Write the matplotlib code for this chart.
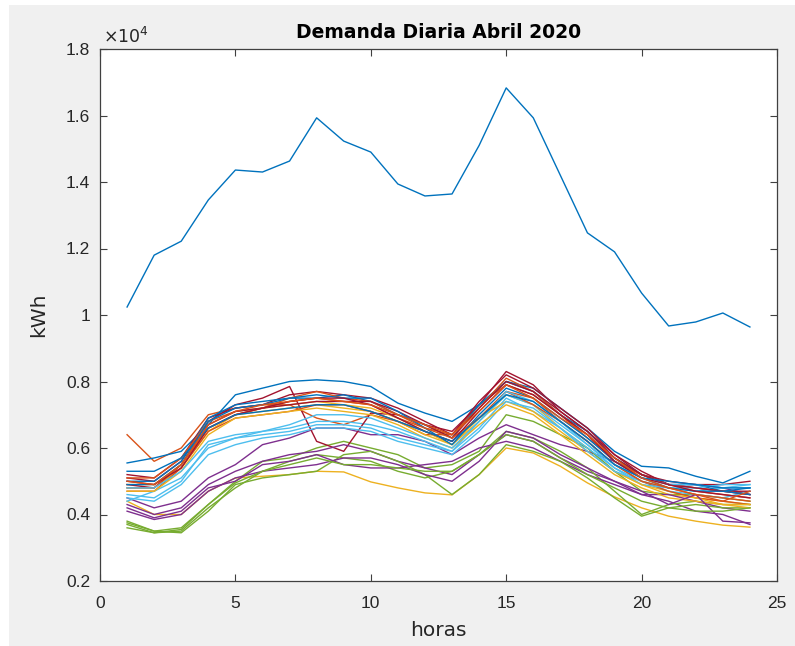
import matplotlib
matplotlib.use("Agg")
import matplotlib.pyplot as plt
from matplotlib.patches import Rectangle
from matplotlib.ticker import FuncFormatter, MultipleLocator

horas = list(range(1, 25))

# Daily demand profiles for April 2020 (kWh), one list per day
d01 = [10240, 11800, 12220, 13460, 14360, 14300, 14630, 15930, 15230, 14900, 13940, 13580,
       13640, 15100, 16830, 15930, 14200, 12470, 11900, 10660, 9670, 9790, 10060, 9640]
d02 = [6400, 5600, 6000, 7000, 7200, 7300, 7300, 6900, 6700, 7000, 6800, 6400,
       6400, 7300, 7900, 7600, 7000, 6300, 5700, 5200, 4900, 4700, 4600, 4500]
d03 = [4800, 4800, 5400, 6500, 7000, 7100, 7200, 7300, 7200, 7100, 6800, 6400,
       6100, 6800, 7600, 7300, 6600, 6000, 5300, 4900, 4700, 4500, 4400, 4300]
d04 = [4500, 4200, 4400, 5100, 5500, 6100, 6300, 6600, 6600, 6400, 6400, 6200,
       5800, 6300, 6700, 6400, 6100, 5900, 5600, 5200, 4900, 4900, 4800, 4600]
d05 = [3800, 3500, 3600, 4300, 5000, 5600, 5700, 6000, 6200, 6000, 5800, 5400,
       5500, 5900, 7000, 6800, 6400, 6000, 5300, 4700, 4600, 4600, 4500, 4400]
d06 = [4600, 4500, 5000, 6100, 6300, 6500, 6600, 6800, 6800, 6700, 6500, 6200,
       5900, 6800, 7600, 7300, 6700, 6100, 5400, 5000, 4700, 4600, 4500, 4700]
d07 = [5100, 5000, 5600, 6800, 7300, 7500, 7850, 6200, 5900, 7050, 7000, 6700,
       6500, 7300, 8300, 7900, 7100, 6500, 5800, 5300, 4900, 4800, 4700, 4700]
d08 = [5550, 5700, 5900, 6700, 7600, 7800, 8000, 8050, 8000, 7850, 7350, 7050,
       6800, 7300, 8000, 7800, 7200, 6600, 5900, 5450, 5400, 5150, 4950, 5300]
d09 = [4700, 4700, 5400, 6500, 6900, 7000, 7100, 7300, 7300, 7100, 6800, 6500,
       6200, 6900, 7700, 7300, 6800, 6200, 5500, 5000, 4700, 4500, 4400, 4300]
d10 = [4400, 4000, 4000, 4700, 5100, 5150, 5200, 5300, 5280, 4980, 4800, 4650,
       4590, 5200, 6000, 5850, 5450, 4950, 4530, 4200, 3950, 3800, 3680, 3620]
d11 = [4300, 4000, 4200, 4900, 5300, 5600, 5800, 5900, 6100, 5900, 5600, 5400,
       5200, 5800, 6400, 6200, 5700, 5300, 5000, 4600, 4400, 4100, 4000, 3700]
d12 = [3700, 3450, 3500, 4200, 4800, 5300, 5600, 5800, 5700, 5600, 5300, 5100,
       5300, 5800, 6500, 6300, 5900, 5400, 4700, 4000, 4300, 4400, 4300, 4300]
d13 = [4400, 4700, 5100, 6000, 6300, 6400, 6500, 6700, 6700, 6600, 6300, 6100,
       5900, 6600, 7500, 7100, 6600, 6000, 5400, 4900, 4800, 4700, 4800, 4800]
d14 = [5200, 5100, 5700, 6900, 7200, 7300, 7600, 7700, 7600, 7500, 7200, 6800,
       6400, 7400, 8200, 7800, 7200, 6600, 5800, 5200, 5000, 4900, 4900, 5000]
d15 = [5000, 5000, 5600, 6900, 7300, 7400, 7500, 7500, 7600, 7400, 7000, 6700,
       6300, 7300, 8000, 7700, 7000, 6500, 5700, 5200, 4900, 4900, 4700, 4800]
d16 = [5100, 5100, 5700, 6800, 7100, 7200, 7500, 7700, 7500, 7400, 7000, 6600,
       6400, 7200, 8100, 7700, 7000, 6400, 5600, 5200, 4900, 4800, 4700, 4600]
d17 = [4900, 4900, 5500, 6600, 7000, 7200, 7300, 7400, 7300, 7200, 6900, 6500,
       6100, 6900, 7400, 7100, 6500, 5900, 5300, 4900, 4600, 4500, 4300, 4300]
d18 = [4200, 3900, 4100, 4800, 5000, 5500, 5600, 5800, 5500, 5400, 5400, 5500,
       5600, 6000, 6200, 6000, 5600, 5200, 4900, 4600, 4600, 4400, 4200, 4100]
d19 = [3750, 3500, 3450, 4100, 4900, 5100, 5200, 5300, 5800, 5900, 5600, 5200,
       4600, 5200, 6100, 5900, 5600, 5100, 4500, 3950, 4200, 4300, 4200, 4200]
d20 = [4500, 4400, 4900, 5800, 6100, 6300, 6400, 6600, 6600, 6500, 6200, 6000,
       5800, 6500, 7400, 7200, 6600, 5900, 5300, 5000, 4800, 4800, 4900, 4900]
d21 = [4900, 4800, 5500, 6700, 7100, 7200, 7300, 7400, 7400, 7400, 7100, 6700,
       6300, 7200, 8000, 7700, 7100, 6500, 5700, 5200, 4900, 4800, 4700, 4600]
d22 = [4900, 4900, 5500, 6800, 7200, 7300, 7500, 7600, 7500, 7500, 7100, 6600,
       6100, 7000, 7800, 7500, 6900, 6300, 5600, 5100, 4800, 4700, 4700, 4600]
d23 = [4800, 4800, 5500, 6600, 7000, 7200, 7400, 7500, 7400, 7300, 6900, 6600,
       6300, 6900, 7700, 7500, 6800, 6200, 5500, 5000, 4800, 4600, 4500, 4400]
d24 = [4700, 4700, 5300, 6400, 6900, 7000, 7100, 7200, 7100, 7000, 6700, 6300,
       6000, 6700, 7300, 7000, 6400, 5800, 5200, 4800, 4500, 4400, 4300, 4200]
d25 = [4100, 3850, 4000, 4700, 5100, 5300, 5400, 5500, 5700, 5700, 5500, 5200,
       5000, 5600, 6500, 6300, 5800, 5400, 5000, 4700, 4300, 4600, 3800, 3750]
d26 = [3600, 3450, 3550, 4300, 4950, 5300, 5500, 5700, 5500, 5500, 5400, 5300,
       5300, 5800, 6400, 6200, 5700, 5200, 4800, 4400, 4200, 4100, 4100, 4200]
d27 = [4800, 4800, 5300, 6200, 6400, 6500, 6700, 7000, 7000, 6900, 6600, 6300,
       6000, 6800, 7700, 7400, 6800, 6100, 5500, 5100, 4900, 4900, 4800, 4900]
d28 = [5000, 4900, 5400, 6600, 7000, 7200, 7400, 7500, 7500, 7300, 6900, 6500,
       6200, 7100, 7900, 7600, 7000, 6400, 5600, 5100, 4900, 4700, 4600, 4500]
d29 = [5300, 5300, 5700, 6600, 7000, 7100, 7200, 7300, 7300, 7100, 6800, 6500,
       6200, 6900, 7600, 7400, 6800, 6200, 5500, 5100, 5000, 4900, 4800, 4800]
d30 = [5000, 4900, 5500, 6700, 7100, 7300, 7400, 7500, 7400, 7300, 7000, 6700,
       6400, 7100, 7900, 7500, 6900, 6400, 5700, 5100, 4800, 4600, 4400, 4700]

dias = [d01, d02, d03, d04, d05, d06, d07, d08, d09, d10, d11, d12, d13, d14, d15,
        d16, d17, d18, d19, d20, d21, d22, d23, d24, d25, d26, d27, d28, d29, d30]

# MATLAB default colour order
color_order = ["#0072BD", "#D95319", "#EDB120", "#7E2F8E",
               "#77AC30", "#4DBEEE", "#A2142F"]

W, H = 795, 646
fig = plt.figure(figsize=(W / 100, H / 100), dpi=100, facecolor="white")
fig.patches.append(Rectangle((9 / W, -0.01), 1, 1.01 - 5 / H, transform=fig.transFigure,
                             facecolor="#F0F0F0", edgecolor="none", zorder=-10))

ax = fig.add_axes([100 / W, 65 / H, 677 / W, 532 / H])
ax.set_zorder(1)
ax.set_facecolor("white")

for i, serie in enumerate(dias):
    ax.plot(horas, serie, color=color_order[i % len(color_order)], lw=1.0)

ax.set_xlim(0, 25)
ax.set_ylim(2000, 18000)
ax.xaxis.set_major_locator(MultipleLocator(5))
ax.yaxis.set_major_locator(MultipleLocator(2000))
ax.yaxis.set_major_formatter(FuncFormatter(lambda v, p: f"{v / 1e4:g}"))

frame = "#404040"
for s in ax.spines.values():
    s.set_color(frame)
    s.set_linewidth(0.9)
ax.tick_params(direction="in", top=True, right=True, length=5, width=0.8,
               color=frame, labelcolor="#262626", labelsize=12.5)
ax.tick_params(axis="x", pad=11)
ax.tick_params(axis="y", pad=7)
for lab in ax.get_xticklabels() + ax.get_yticklabels():
    lab.set_family("Liberation Sans")

ax.text(0.004, 1.004, r"$\times10^{4}$", transform=ax.transAxes, ha="left",
        va="bottom", fontsize=12.5, color="#262626")

ax.set_title("Demanda Diaria Abril 2020", fontsize=13.5, fontweight="bold",
             family="DejaVu Sans", color="black", pad=8)
ax.set_xlabel("horas", fontsize=14.5, color="#262626", labelpad=7)
ax.set_ylabel("kWh", fontsize=14.5, color="#262626", labelpad=13)

fig.savefig("out.png", dpi=100, facecolor=fig.get_facecolor())
